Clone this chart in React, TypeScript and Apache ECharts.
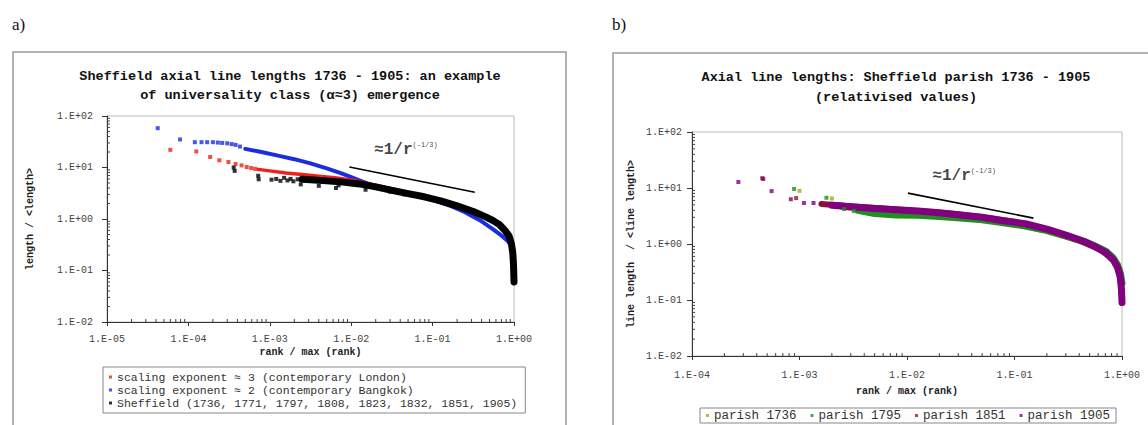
import React, { useEffect, useRef } from "react";
import * as echarts from "echarts";

const MONO = "'Liberation Mono', 'Courier New', monospace";
const SERIF = "'Liberation Serif', 'Times New Roman', serif";

// ---- tick labels ----
const leftXTickLabels = ["1.E-05", "1.E-04", "1.E-03", "1.E-02", "1.E-01", "1.E+00"];
const leftYTickLabels = ["1.E-02", "1.E-01", "1.E+00", "1.E+01", "1.E+02"];
const rightXTickLabels = ["1.E-04", "1.E-03", "1.E-02", "1.E-01", "1.E+00"];
const rightYTickLabels = ["1.E-02", "1.E-01", "1.E+00", "1.E+01", "1.E+02"];

// ---- texts ----
const leftTitle = "Sheffield axial line lengths 1736 - 1905: an example\nof universality class (\u03b1\u22483) emergence";
const rightTitle = "Axial line lengths: Sheffield parish 1736 - 1905\n(relativised values)";
const leftSeriesNames = [
  "scaling exponent \u2248 3 (contemporary London)",
  "scaling exponent \u2248 2 (contemporary Bangkok)",
  "Sheffield (1736, 1771, 1797, 1808, 1823, 1832, 1851, 1905)",
];
const rightSeriesNames = ["parish 1736", "parish 1795", "parish 1851", "parish 1905"];

// ---- panel a) data: [rank/max(rank), length/<length>] ----
const londonPoints = [
  [6.0e-5, 22], [1.25e-4, 20.5], [1.85e-4, 16], [2.4e-4, 13.8], [3.1e-4, 12.8],
  [3.8e-4, 11.7], [4.5e-4, 11], [5.2e-4, 10.2], [5.9e-4, 9.8], [6.6e-4, 9.4],
];
const londonBand = [
  [0.00072, 9.2], [0.001, 8.6], [0.00158, 7.8], [0.0025, 7.3], [0.004, 6.8], [0.0063, 6.3],
  [0.01, 5.7], [0.0158, 4.9], [0.025, 4.2], [0.04, 3.6], [0.063, 3.0], [0.1, 2.5],
  [0.158, 2.0], [0.25, 1.55], [0.4, 1.15], [0.56, 0.9], [0.71, 0.68], [0.83, 0.5],
  [0.91, 0.4], [0.955, 0.32], [1.0, 0.22],
];
const bangkokPoints = [
  [4.2e-5, 58], [7.9e-5, 35], [1.2e-4, 31], [1.45e-4, 31], [1.7e-4, 31], [2.0e-4, 31],
  [2.3e-4, 30.5], [2.6e-4, 30], [3.0e-4, 29.5], [3.4e-4, 28.5], [3.8e-4, 27.5], [4.3e-4, 25.5],
];
const bangkokBand = [
  [0.0005, 23], [0.00079, 20], [0.00126, 17], [0.002, 14.5], [0.00316, 12], [0.005, 9.6],
  [0.0079, 7.5], [0.0126, 5.6], [0.0158, 4.9], [0.025, 4.0], [0.04, 3.4], [0.063, 2.85],
  [0.1, 2.35], [0.158, 1.85], [0.25, 1.35], [0.4, 0.9], [0.56, 0.62], [0.71, 0.47],
  [0.83, 0.38], [0.93, 0.3], [1.0, 0.24],
];
const sheffieldPoints = [
  [3.6e-4, 10], [3.7e-4, 8.6], [7.2e-4, 6.9], [7.3e-4, 5.9], [1.05e-3, 5.8], [1.2e-3, 6.0],
  [1.35e-3, 5.5], [1.5e-3, 6.3], [1.65e-3, 5.6], [1.8e-3, 6.0], [1.95e-3, 5.4], [2.2e-3, 5.9],
  [2.4e-3, 4.7], [3.0e-3, 5.6], [4.0e-3, 4.4], [5.5e-3, 5.3], [6.5e-3, 4.0], [7.0e-3, 4.5],
  [1.5e-2, 3.7], [2.2e-2, 3.9], [3.0e-2, 3.4], [4.5e-2, 3.0],
];
const sheffieldBand = [
  [0.0025, 5.9], [0.00316, 5.8], [0.005, 5.5], [0.0079, 5.2], [0.0126, 4.8],
  [0.02, 4.2], [0.0316, 3.6], [0.05, 3.1], [0.079, 2.7], [0.126, 2.25], [0.2, 1.8],
  [0.316, 1.4], [0.45, 1.1], [0.56, 0.92], [0.66, 0.78], [0.76, 0.62], [0.87, 0.47],
  [0.93, 0.33], [0.966, 0.22], [0.986, 0.13], [1.0, 0.06],
];
const leftGuide = [[0.0095, 10.2], [0.33, 3.3]];
const leftGuideLabelAt = [[0.047, 22]];

// ---- panel b) data: [rank/max(rank), line length/<line length>] ----
const parish1736Points = [[1.0e-3, 8.9], [2.0e-3, 6.5]];
const parish1736Band = [
  [0.0025, 4.6], [0.005, 3.9], [0.01, 3.5], [0.02, 3.2], [0.05, 2.8], [0.1, 2.3],
  [0.2, 1.7], [0.4, 1.15], [0.63, 0.8], [0.83, 0.55], [0.95, 0.35], [1.0, 0.2],
];
const parish1795Points = [[8.9e-4, 9.6], [1.78e-3, 6.7], [2.6e-3, 4.2], [3.2e-3, 3.9]];
const parish1795Band = [
  [0.0035, 4.0], [0.005, 3.5], [0.0079, 3.3], [0.0126, 3.25], [0.02, 3.1], [0.0316, 2.9],
  [0.05, 2.7], [0.079, 2.4], [0.126, 2.1], [0.2, 1.75], [0.316, 1.35], [0.45, 1.1],
  [0.56, 0.92], [0.71, 0.74], [0.83, 0.56], [0.91, 0.42], [0.966, 0.3], [1.0, 0.2],
];
const parish1851Points = [[4.5e-4, 15], [9.3e-4, 6.6]];
const parish1851Band = [
  [0.0016, 5.2], [0.003, 4.7], [0.006, 4.3], [0.0126, 3.9], [0.025, 3.5], [0.05, 3.0],
  [0.1, 2.5], [0.2, 1.8], [0.4, 1.15], [0.63, 0.8], [0.83, 0.52], [0.95, 0.32], [1.0, 0.12],
];
const parish1905Points = [
  [2.7e-4, 12.8], [4.6e-4, 14.5], [5.5e-4, 8.8], [8.3e-4, 6.3], [1.1e-3, 5.4],
  [1.35e-3, 5.4], [1.6e-3, 5.2], [1.8e-3, 5.0],
];
const parish1905Band = [
  [0.002, 4.9], [0.00316, 4.6], [0.005, 4.3], [0.0079, 4.1], [0.0126, 3.9], [0.02, 3.6],
  [0.0316, 3.3], [0.05, 3.0], [0.079, 2.6], [0.126, 2.3], [0.2, 1.85], [0.316, 1.4],
  [0.45, 1.1], [0.56, 0.9], [0.71, 0.7], [0.83, 0.52], [0.91, 0.38], [0.966, 0.25],
  [0.989, 0.15], [1.0, 0.09],
];
const rightGuide = [[0.0102, 8.1], [0.15, 2.9]];
const rightGuideLabelAt = [[0.034, 16.4]];

const leftColors = ["#f0201a", "#1a2ee0", "#000000"];
const rightColors = ["#a4ad12", "#1f8f1f", "#9a1a1a", "#800080"];

function decadeFormatter(labels: string[], minExp: number) {
  return (v: number) => labels[Math.round(Math.log10(v)) - minExp] ?? "";
}

function minorValues(minExp: number, maxExp: number) {
  const out: number[] = [];
  for (let e = minExp; e < maxExp; e++) for (let k = 2; k <= 9; k++) out.push(k * Math.pow(10, e));
  return out;
}

// minor ticks of the log axes, drawn just inside the plot area
function minorTickSeries(axisIdx: number, data: number[][], dir: "x" | "y", len: number) {
  return {
    type: "custom",
    coordinateSystem: "cartesian2d",
    xAxisIndex: axisIdx,
    yAxisIndex: axisIdx,
    silent: true,
    z: 6,
    encode: { x: 0, y: 1 },
    data,
    renderItem: (_p: any, api: any) => {
      const p = api.coord([api.value(0), api.value(1)]);
      const shape =
        dir === "x"
          ? { x1: p[0], y1: p[1], x2: p[0], y2: p[1] - len }
          : { x1: p[0], y1: p[1], x2: p[0] + len, y2: p[1] };
      return { type: "line", shape, style: { stroke: "#444", lineWidth: 1 } };
    },
  };
}

function scatter(name: string, idx: number, data: number[][], color: string, size: number) {
  return {
    name, type: "scatter", xAxisIndex: idx, yAxisIndex: idx, data,
    symbol: "rect", symbolSize: size, itemStyle: { color }, z: 3,
  };
}
function band(name: string, idx: number, data: number[][], color: string, width: number) {
  return {
    name, type: "line", xAxisIndex: idx, yAxisIndex: idx, data, showSymbol: false,
    symbol: "none", lineStyle: { color, width, join: "round", cap: "round" }, z: 3, silent: true,
  };
}
function guide(idx: number, data: number[][]) {
  return {
    name: "guide" + idx, type: "line", xAxisIndex: idx, yAxisIndex: idx, data, symbol: "none",
    lineStyle: { color: "#000", width: 1.6 }, z: 4, silent: true,
  };
}
function guideLabel(idx: number, data: number[][]) {
  return {
    name: "guideLabel" + idx, type: "scatter", xAxisIndex: idx, yAxisIndex: idx, data,
    symbolSize: 1, itemStyle: { color: "transparent" }, silent: true, z: 5,
    label: {
      show: true, position: "inside", formatter: "{a|\u22481/r}{b|(-1/3)}",
      rich: {
        a: { fontFamily: MONO, fontWeight: "bold", fontSize: 16, color: "#111" },
        b: { fontFamily: MONO, fontSize: 7, color: "#111", verticalAlign: "top", padding: [0, 0, 8, 0] },
      },
    },
  };
}

function xAxis(idx: number, min: number, labels: string[], minExp: number, nameGap: number, margin: number) {
  return {
    type: "log", logBase: 10, gridIndex: idx, min, max: 1,
    name: "rank / max (rank)", nameLocation: "middle", nameGap,
    nameTextStyle: { fontFamily: MONO, fontWeight: "bold", fontSize: 10, color: "#222" },
    axisLine: { show: true, lineStyle: { color: "#333", width: 1 } },
    axisTick: { show: true, length: 4, lineStyle: { color: "#333" } },
    splitLine: { show: false },
    axisLabel: { formatter: decadeFormatter(labels, minExp), fontFamily: MONO, fontSize: 10, color: "#444", margin, showMinLabel: true, showMaxLabel: true },
  };
}
function yAxis(idx: number, name: string, nameGap: number, margin: number) {
  return {
    type: "log", logBase: 10, gridIndex: idx, min: 0.01, max: 100,
    name, nameLocation: "middle", nameGap,
    nameTextStyle: { fontFamily: MONO, fontWeight: "bold", fontSize: 10, color: "#222" },
    axisLine: { show: true, lineStyle: { color: "#333", width: 1 } },
    axisTick: { show: true, length: 5, lineStyle: { color: "#333" } },
    splitLine: { show: false },
    axisLabel: { formatter: decadeFormatter(idx === 0 ? leftYTickLabels : rightYTickLabels, -2), fontFamily: MONO, fontSize: 10, color: "#444", margin },
  };
}

export default function App() {
  const ref = useRef<HTMLDivElement>(null);
  useEffect(() => {
    if (!ref.current) return;
    const chart = echarts.init(ref.current, null, { renderer: "svg" });

    const lxMinor = minorValues(-5, 0).map((v) => [v, 0.01]);
    const lyMinor = minorValues(-2, 2).map((v) => [1e-5, v]);
    const rxMinor = minorValues(-4, 0).map((v) => [v, 0.01]);
    const ryMinor = minorValues(-2, 2).map((v) => [1e-4, v]);

    const option: any = {
      animation: false,
      backgroundColor: "#fff",
      graphic: [
        { type: "rect", shape: { x: 13, y: 52, width: 553, height: 420 }, style: { fill: "none", stroke: "#9a9a9a", lineWidth: 1.5 }, silent: true },
        { type: "rect", shape: { x: 613, y: 53, width: 600, height: 420 }, style: { fill: "none", stroke: "#9a9a9a", lineWidth: 1.5 }, silent: true },
        { type: "text", x: 12, y: 16, style: { text: "a)", fontFamily: SERIF, fontSize: 17, fill: "#111" } },
        { type: "text", x: 612, y: 16, style: { text: "b)", fontFamily: SERIF, fontSize: 17, fill: "#111" } },
        { type: "text", x: 290, y: 67, style: { text: leftTitle, fontFamily: MONO, fontWeight: "bold", fontSize: 13.5, lineHeight: 19, align: "center", fill: "#111" } },
        { type: "text", x: 896, y: 67, style: { text: rightTitle, fontFamily: MONO, fontWeight: "bold", fontSize: 13.5, lineHeight: 20, align: "center", fill: "#111" } },
      ],
      grid: [
        { left: 107, top: 116, width: 407, height: 206, show: true, borderColor: "#bbb", borderWidth: 1, backgroundColor: "#fff" },
        { left: 692, top: 132, width: 430, height: 224, show: true, borderColor: "#bbb", borderWidth: 1, backgroundColor: "#fff" },
      ],
      xAxis: [xAxis(0, 1e-5, leftXTickLabels, -5, 25, 12), xAxis(1, 1e-4, rightXTickLabels, -4, 30, 14)],
      yAxis: [yAxis(0, "length / <length>", 72, 14), yAxis(1, "line length  / <line length>", 56, 10)],
      legend: [
        {
          data: leftSeriesNames, orient: "vertical", left: 103, top: 367, icon: "rect",
          itemWidth: 3, itemHeight: 3, itemGap: 1, padding: [4, 8, 4, 6], borderColor: "#888", borderWidth: 1,
          textStyle: { fontFamily: MONO, fontSize: 11.5, color: "#333", lineHeight: 12 }, selectedMode: false,
        },
        {
          data: rightSeriesNames, orient: "horizontal", left: 700, top: 408, icon: "rect",
          itemWidth: 3, itemHeight: 3, itemGap: 14, padding: [1, 6, 1, 6], borderColor: "#888", borderWidth: 1,
          textStyle: { fontFamily: MONO, fontSize: 12.5, color: "#333", lineHeight: 13 }, selectedMode: false,
        },
      ],
      series: [
        minorTickSeries(0, lxMinor, "x", 3),
        minorTickSeries(0, lyMinor, "y", 3),
        minorTickSeries(1, rxMinor, "x", 3),
        minorTickSeries(1, ryMinor, "y", 3),
        band("bangkok band", 0, bangkokBand, leftColors[1], 4),
        band("london band", 0, londonBand, leftColors[0], 3.5),
        scatter(leftSeriesNames[0], 0, londonPoints, leftColors[0], 4),
        scatter(leftSeriesNames[1], 0, bangkokPoints, leftColors[1], 4),
        band("sheffield band", 0, sheffieldBand, leftColors[2], 7),
        scatter(leftSeriesNames[2], 0, sheffieldPoints, leftColors[2], 4),
        guide(0, leftGuide),
        guideLabel(0, leftGuideLabelAt),
        band("p1736 band", 1, parish1736Band, rightColors[0], 6),
        band("p1851 band", 1, parish1851Band, rightColors[2], 6),
        band("p1795 band", 1, parish1795Band, rightColors[1], 7),
        band("p1905 band", 1, parish1905Band, rightColors[3], 7),
        scatter(rightSeriesNames[0], 1, parish1736Points, rightColors[0], 4),
        scatter(rightSeriesNames[1], 1, parish1795Points, rightColors[1], 4),
        scatter(rightSeriesNames[2], 1, parish1851Points, rightColors[2], 4),
        scatter(rightSeriesNames[3], 1, parish1905Points, rightColors[3], 4),
        guide(1, rightGuide),
        guideLabel(1, rightGuideLabelAt),
      ],
    };
    chart.setOption(option);
    return () => chart.dispose();
  }, []);
  return (
    <div
      ref={ref}
      style={{ position: "fixed", left: 0, top: 0, width: 1148, height: 425, background: "#fff" }}
    />
  );
}
